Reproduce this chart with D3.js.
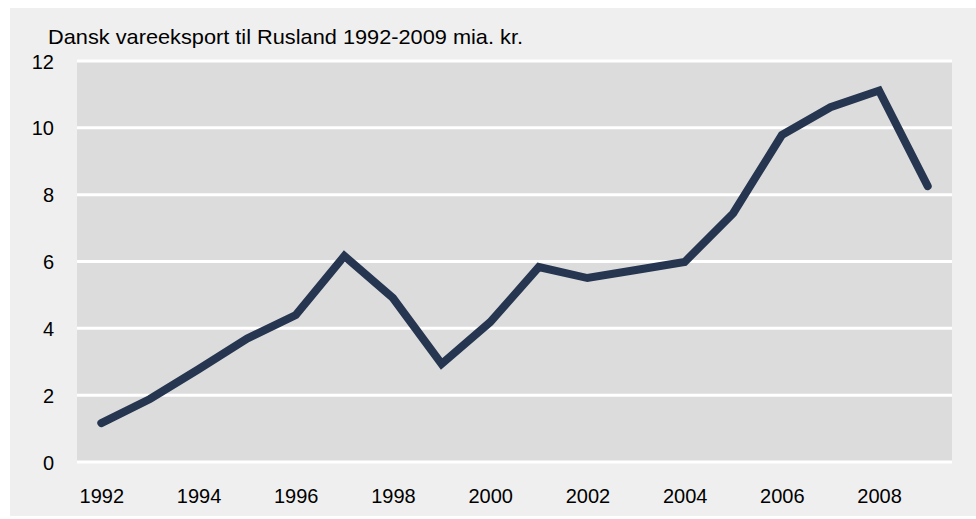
<!DOCTYPE html>
<html>
<head>
<meta charset="utf-8">
<script src="https://cdn.jsdelivr.net/npm/d3@7"></script>
<style>
  body { margin: 0; background: #fff; }
  svg text { font-family: "Liberation Sans", Arial, sans-serif; fill: #000; }
</style>
</head>
<body>
<div id="chartContainer"></div>
<script>
// data
const years = [1992, 1993, 1994, 1995, 1996, 1997, 1998, 1999, 2000,
               2001, 2002, 2003, 2004, 2005, 2006, 2007, 2008, 2009];
const exportValues = [1.15, 1.87, 2.76, 3.68, 4.38, 6.15, 4.89, 2.92, 4.17,
                      5.82, 5.49, 5.73, 5.97, 7.43, 9.77, 10.6, 11.1, 8.24];
const yTicks = [0, 2, 4, 6, 8, 10, 12];
const xTickYears = [1992, 1994, 1996, 1998, 2000, 2002, 2004, 2006, 2008];
const titleText = "Dansk vareeksport til Rusland 1992-2009 mia. kr.";

(function() {
    const fullWidth = 976;
    const fullHeight = 519;
    const plot = {left: 77, right: 952, top: 60.5, bottom: 461.5};

    const svg = d3.create("svg")
        .attr("width", fullWidth)
        .attr("height", fullHeight);

    // outer panel
    svg.append("rect")
        .attr("x", 10).attr("y", 8)
        .attr("width", fullWidth - 10).attr("height", 508)
        .attr("fill", "#efefef");

    // plot area
    svg.append("rect")
        .attr("x", plot.left).attr("y", plot.top)
        .attr("width", plot.right - plot.left)
        .attr("height", plot.bottom - plot.top)
        .attr("fill", "#dcdcdc");

    const x = d3.scalePoint()
        .domain(years)
        .range([plot.left, plot.right])
        .padding(0.5);

    const y = d3.scaleLinear()
        .domain([0, 12])
        .range([plot.bottom, plot.top]);

    // gridlines
    svg.append("g")
        .attr("transform", `translate(${plot.left},0)`)
        .call(d3.axisRight(y).tickValues(yTicks).tickSize(plot.right - plot.left).tickFormat(""))
        .call(g => g.select(".domain").remove())
        .call(g => g.selectAll("line").attr("stroke", "#fff").attr("stroke-width", 3));

    // y axis labels
    svg.append("g")
        .attr("transform", `translate(${plot.left},0)`)
        .call(d3.axisLeft(y).tickValues(yTicks).tickSize(0).tickPadding(23))
        .call(g => g.select(".domain").remove())
        .call(g => g.selectAll("text").style("font-size", "20px").attr("dy", "0.38em"));

    // x axis labels
    svg.append("g")
        .attr("transform", `translate(0,${plot.bottom})`)
        .call(d3.axisBottom(x).tickValues(xTickYears).tickSize(0).tickPadding(27))
        .call(g => g.select(".domain").remove())
        .call(g => g.selectAll("text").style("font-size", "20px"));

    // line
    const line = d3.line()
        .x((d, i) => x(years[i]))
        .y(d => y(d));

    svg.append("path")
        .datum(exportValues)
        .attr("fill", "none")
        .attr("stroke", "#263550")
        .attr("stroke-width", 8)
        .attr("stroke-linejoin", "miter")
        .attr("stroke-linecap", "round")
        .attr("d", line);

    // title
    svg.append("text")
        .attr("x", 48)
        .attr("y", 44)
        .style("font-size", "21px")
        .attr("textLength", 475)
        .attr("lengthAdjust", "spacingAndGlyphs")
        .text(titleText);

    document.getElementById("chartContainer").append(svg.node());
})();
</script>
</body>
</html>
